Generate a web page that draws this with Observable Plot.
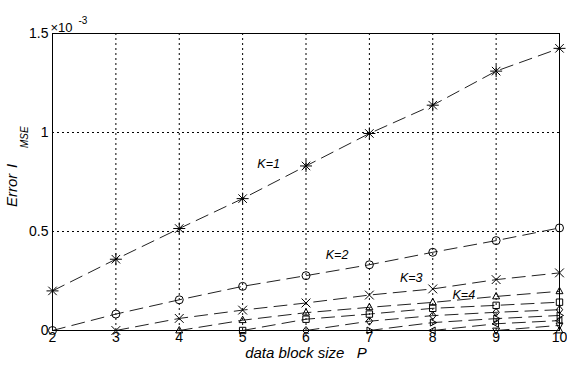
<!DOCTYPE html>
<html><head><meta charset="utf-8">
<script src="https://cdn.jsdelivr.net/npm/d3@7"></script>
<script src="https://cdn.jsdelivr.net/npm/@observablehq/plot@0.6"></script>
<style>body{margin:0;background:#fff} svg{display:block}</style>
</head><body><div id="chart"></div>
<script>
// Data (values in units of 1e-3)
const seriesK = ["K=1","K=2","K=3","K=4","K=5","K=6","K=7","K=8","K=9","K=10"];
const startP  = [2, 2, 3, 4, 5, 6, 7, 8, 9, 10];
const K1  = [0.2, 0.36, 0.515, 0.666, 0.831, 0.995, 1.138, 1.31, 1.425];
const K2  = [0, 0.083, 0.155, 0.223, 0.277, 0.332, 0.395, 0.454, 0.518];
const K3  = [0, 0.061, 0.103, 0.139, 0.179, 0.21, 0.257, 0.291];
const K4  = [0, 0.052, 0.09, 0.117, 0.142, 0.172, 0.198];
const K5  = [0, 0.057, 0.083, 0.112, 0.127, 0.143];
const K6  = [0, 0.047, 0.075, 0.092, 0.105];
const K7  = [0, 0.04, 0.06, 0.076];
const K8  = [0, 0.034, 0.05];
const K9  = [0, 0.026];
const K10 = [0];
const xTicks = [2,3,4,5,6,7,8,9,10];
const yTicks = [0, 0.5, 1, 1.5];
const yTickLabels = ["0", "0.5", "1", "1.5"];
const labelK = ["K=1", "K=2", "K=3", "K=4"];
const labelP = [5.41, 6.49, 7.66, 8.49];
const labelV = [0.839, 0.382, 0.267, 0.181];

const allSeries = [K1,K2,K3,K4,K5,K6,K7,K8,K9,K10];
const rows = [];
allSeries.forEach((arr, i) => arr.forEach((v, j) => rows.push({K: seriesK[i], P: startP[i] + j, v})));

// Custom MATLAB-like marker symbols
function sym(fn){ return {draw(ctx, size){ const r = Math.sqrt(size/Math.PI); fn(ctx, r); }}; }
const sAst = sym((c,r)=>{const a=r*1.5, d=a*0.7071; c.moveTo(-a,0);c.lineTo(a,0);c.moveTo(0,-a);c.lineTo(0,a);c.moveTo(-d,-d);c.lineTo(d,d);c.moveTo(-d,d);c.lineTo(d,-d);});
const sCircle = sym((c,r)=>{c.moveTo(r,0);c.arc(0,0,r,0,2*Math.PI);});
const sTimes = sym((c,r)=>{const a=r*1.1; c.moveTo(-a,-a);c.lineTo(a,a);c.moveTo(-a,a);c.lineTo(a,-a);});
const sTriUp = sym((c,r)=>{c.moveTo(0,-r);c.lineTo(r*0.87,r*0.6);c.lineTo(-r*0.87,r*0.6);c.closePath();});
const sSquare = sym((c,r)=>{const a=r*0.8; c.rect(-a,-a,2*a,2*a);});
const sDiamond = sym((c,r)=>{c.moveTo(0,-r);c.lineTo(r*0.8,0);c.lineTo(0,r);c.lineTo(-r*0.8,0);c.closePath();});
const sTriRight = sym((c,r)=>{c.moveTo(r,0);c.lineTo(-r*0.6,-r*0.87);c.lineTo(-r*0.6,r*0.87);c.closePath();});
const sTriLeft = sym((c,r)=>{c.moveTo(-r,0);c.lineTo(r*0.6,-r*0.87);c.lineTo(r*0.6,r*0.87);c.closePath();});
const sTriDown = sym((c,r)=>{c.moveTo(0,r);c.lineTo(r*0.87,-r*0.6);c.lineTo(-r*0.87,-r*0.6);c.closePath();});
const symbols = [sAst, sCircle, sTimes, sTriUp, sSquare, sDiamond, sTriRight, sTriLeft, sTriDown, sTriUp];

const font = "'Liberation Sans', Arial, sans-serif";
const chart = Plot.plot({
  width: 567, height: 367,
  marginLeft: 52, marginRight: 8, marginTop: 33, marginBottom: 37,
  style: {fontFamily: font, fontSize: "14px", background: "#fff", color: "#000"},
  x: {domain: [2, 10], label: null},
  y: {domain: [0, 1.5], label: null},
  symbol: {domain: seriesK, range: symbols},
  marks: [
    Plot.ruleX(xTicks, {stroke: "#000", strokeDasharray: "2,3", strokeWidth: 1}),
    Plot.ruleY(yTicks, {stroke: "#000", strokeDasharray: "2,3", strokeWidth: 1}),
    Plot.line(rows, {x: "P", y: "v", z: "K", stroke: "#222", strokeWidth: 1, strokeDasharray: "13,7"}),
    Plot.dot(rows, {x: "P", y: "v", symbol: "K", r: 4, stroke: "#000", fill: "none", strokeWidth: 1}),
    Plot.frame({stroke: "#000", strokeWidth: 1}),
    Plot.axisX(xTicks, {tickSize: 0, tickPadding: 2, label: null, tickFormat: d => String(d)}),
    Plot.axisY(yTicks, {tickSize: 0, tickPadding: 4, label: null, tickFormat: d => yTickLabels[yTicks.indexOf(d)]}),
    Plot.text(labelK, {x: labelP, y: labelV, text: d => d, fontStyle: "italic", fontSize: 12.5}),
    Plot.text(["data block size\u00a0\u00a0\u00a0P"], {frameAnchor: "bottom", text: d => d, dy: 27.5, fontStyle: "italic", fontSize: 15}),
    Plot.text(["Error"], {frameAnchor: "left", text: d => d, rotate: -90, dx: -40, dy: 25, fontStyle: "italic", fontSize: 15}),
    Plot.text(["I"], {frameAnchor: "left", text: d => d, rotate: -90, dx: -40, dy: -14, fontStyle: "italic", fontSize: 15}),
    Plot.text(["MSE"], {frameAnchor: "left", text: d => d, rotate: -90, dx: -28, dy: -34, fontStyle: "italic", fontSize: 10}),
    Plot.text(["\u00d710"], {frameAnchor: "top-left", text: d => d, textAnchor: "start", dx: -2, dy: -11, fontSize: 13}),
    Plot.text(["-3"], {frameAnchor: "top-left", text: d => d, textAnchor: "start", dx: 26, dy: -16.5, fontSize: 10})
  ]
});
document.getElementById("chart").appendChild(chart);
</script>
</body></html>
